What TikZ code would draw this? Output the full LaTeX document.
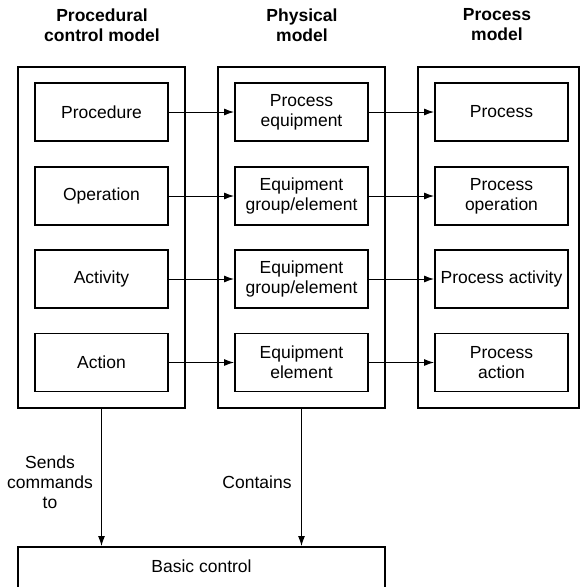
\documentclass[tikz,border=0pt]{standalone}
\usepackage{fontspec}
\setmainfont{Liberation Sans}
\usetikzlibrary{arrows.meta}
\begin{document}
\begin{tikzpicture}[x=1pt,y=-1pt,
  inner/.style={draw, line width=1.9pt, minimum width=133pt, minimum height=58pt, inner sep=0pt, align=center, font=\fontsize{17.5}{20}\selectfont},
  outer/.style={draw, line width=1.9pt, minimum height=341pt, inner sep=0pt},
  hdr/.style={align=center, font=\fontsize{17.5}{20}\selectfont\bfseries},
  lbl/.style={align=center, font=\fontsize{17.5}{20}\selectfont},
  arr/.style={-{Latex[length=10pt,width=7pt]}, line width=1pt}]
\useasboundingbox (0,0) rectangle (580,587);
\clip (0,0) rectangle (580,587);
% outer boxes
\node[outer, minimum width=167pt] (L) at (101.5,237.5) {};
\node[outer, minimum width=167pt] (M) at (301.5,237.5) {};
\node[outer, minimum width=161pt] (R) at (498.5,237.5) {};
% headers
\node[hdr] (hL) at (102,25) {Procedural\\control model};
\node[hdr] (hM) at (302,25) {Physical\\model};
\node[hdr] (hR) at (497,25) {Process\\model};
% inner boxes
\node[inner] (l1) at (101.5,112) {Procedure};
\node[inner] (l2) at (101.5,196) {Operation};
\node[inner] (l3) at (101.5,279) {Activity};
\node[inner] (l4) at (101.5,362.5) {Action};
\node[inner] (m1) at (301.5,112) {Process\\equipment};
\node[inner] (m2) at (301.5,196) {Equipment\\group/element};
\node[inner] (m3) at (301.5,279) {Equipment\\group/element};
\node[inner] (m4) at (301.5,362.5) {Equipment\\element};
\node[inner] (r1) at (501.5,112) {Process};
\node[inner] (r2) at (501.5,196) {Process\\operation};
\node[inner] (r3) at (501.5,279) {Process activity};
\node[inner] (r4) at (501.5,362.5) {Process\\action};
% horizontal arrows
\foreach \i in {1,2,3,4}{
  \draw[arr] (l\i.east) -- (m\i.west);
  \draw[arr] (m\i.east) -- (r\i.west);
}
% basic control
\node[draw, line width=1.9pt, minimum width=367pt, minimum height=60pt, anchor=north, inner sep=0pt] (B) at (201.5,546) {};
\node[lbl] (bt) at (201.5,566) {Basic control};
% vertical arrows
\draw[arr] (L.south) -- (L.south |- B.north);
\draw[arr] (M.south) -- (M.south |- B.north);
\node[lbl] (s) at (50,482) {Sends\\commands\\to};
\node[lbl] (c) at (257,482) {Contains};
\end{tikzpicture}
\end{document}
